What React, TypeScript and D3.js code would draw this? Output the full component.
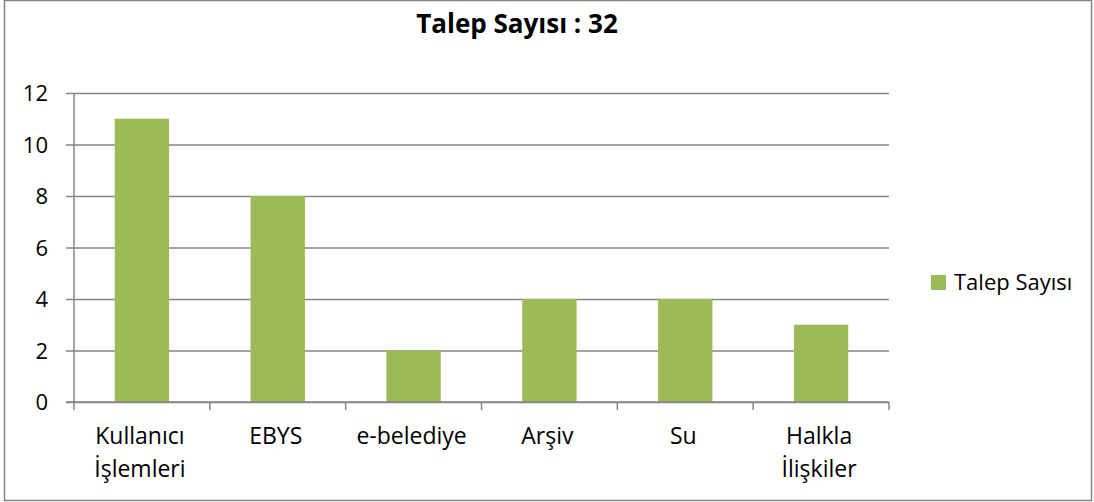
import { useEffect, useRef } from 'react'
import * as d3 from 'd3'

// Talep sayısı — kategori bazında (toplam 32)
const CATEGORIES = [
  ['Kullanıcı', 'İşlemleri'],
  ['EBYS'],
  ['e-belediye'],
  ['Arşiv'],
  ['Su'],
  ['Halkla', 'İlişkiler'],
]
const VALUES = [11, 8, 2, 4, 4, 3]
const Y_TICKS = [0, 2, 4, 6, 8, 10, 12]
const SERIES_NAME = 'Talep Sayısı'
const TITLE = 'Talep Sayısı : 32'

const W = 1094, H = 502
const BAR = '#9bbb59'
const GRID = '#868686'
const FONT = '"Open Sans", sans-serif'

export default function App() {
  const ref = useRef<SVGSVGElement>(null)

  useEffect(() => {
    const svg = d3.select(ref.current)
    svg.selectAll('*').remove()

    const M = { top: 93, left: 74, right: 205, bottom: 100 }
    const iw = W - M.left - M.right
    const ih = H - M.top - M.bottom

    // borda externa do gráfico
    svg.append('rect')
      .attr('x', 4.5).attr('y', 0.5).attr('width', W - 7).attr('height', H - 2)
      .attr('fill', '#fff').attr('stroke', GRID).attr('stroke-width', 1.5)

    svg.append('text')
      .attr('x', 517).attr('y', 33).attr('text-anchor', 'middle')
      .attr('font-family', FONT).attr('font-weight', 700).attr('font-size', 26)
      .text(TITLE)

    const keys = CATEGORIES.map(c => c.join(' '))
    const x = d3.scaleBand<string>().domain(keys).range([0, iw]).padding(0)
    const y = d3.scaleLinear().domain([0, 12]).range([ih, 0])

    const g = svg.append('g').attr('transform', `translate(${M.left},${M.top})`)

    // grade horizontal + rótulos do eixo Y
    const yAxis = g.append('g')
      .call(d3.axisLeft(y).tickValues(Y_TICKS).tickSize(-iw - 8).tickFormat(d3.format('d')))
      .attr('transform', 'translate(-8,0)')
    yAxis.select('.domain').remove()
    yAxis.selectAll('line').attr('stroke', GRID).attr('stroke-width', 1.5)
      .attr('x1', 0).attr('x2', iw + 8)
    yAxis.selectAll('text').attr('fill', '#000').attr('font-family', FONT).attr('font-size', 22)
      .attr('x', -18).attr('dy', '0.36em')

    g.append('line')
      .attr('x1', 0).attr('x2', 0).attr('y1', 0).attr('y2', ih)
      .attr('stroke', GRID).attr('stroke-width', 1.5)

    g.selectAll('rect.bar')
      .data(VALUES)
      .join('rect')
      .attr('class', 'bar')
      .attr('x', (d, i) => x(keys[i])! + x.bandwidth() * 0.3)
      .attr('width', x.bandwidth() * 0.4)
      .attr('y', d => y(d))
      .attr('height', d => ih - y(d))
      .attr('fill', BAR)

    // eixo X: linha base + marcas nas divisas das categorias
    g.append('line')
      .attr('x1', -8).attr('x2', iw).attr('y1', ih).attr('y2', ih)
      .attr('stroke', GRID).attr('stroke-width', 1.5)
    const bounds = keys.map(k => x(k)!).concat([iw])
    g.selectAll('line.xtick')
      .data(bounds)
      .join('line')
      .attr('class', 'xtick')
      .attr('x1', d => d).attr('x2', d => d)
      .attr('y1', ih).attr('y2', ih + 8)
      .attr('stroke', GRID).attr('stroke-width', 1.5)

    const labels = g.selectAll('text.xlab')
      .data(CATEGORIES)
      .join('text')
      .attr('class', 'xlab')
      .attr('text-anchor', 'middle')
      .attr('font-family', FONT).attr('font-size', 23)
      .attr('fill', '#000')
    labels.each(function (lines, i) {
      const t = d3.select(this)
      lines.forEach((ln, j) => {
        t.append('tspan')
          .attr('x', x(keys[i])! + x.bandwidth() / 2 - 2)
          .attr('y', ih + 42 + j * 33)
          .text(ln)
      })
    })

    // legenda
    svg.append('rect')
      .attr('x', 931).attr('y', 275).attr('width', 15).attr('height', 15)
      .attr('fill', BAR)
    svg.append('text')
      .attr('x', 954).attr('y', 290)
      .attr('font-family', FONT).attr('font-size', 22).attr('fill', '#000')
      .text(SERIES_NAME)
  }, [])

  return (
    <svg
      ref={ref}
      width={W}
      height={H}
      style={{ position: 'absolute', left: 0, top: 0 }}
    />
  )
}
